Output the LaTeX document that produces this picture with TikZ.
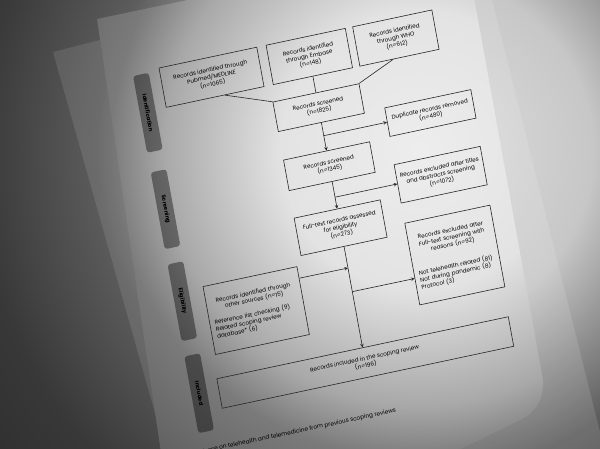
\documentclass[tikz,border=0pt]{standalone}
\usepackage{fontspec}
\setmainfont{Poppins}
\usetikzlibrary{calc}
\pgfdeclareradialshading{roomlight}{\pgfpoint{0bp}{0bp}}{color(0bp)=(black!12); color(8.3bp)=(black!22); color(15.5bp)=(black!64); color(21.4bp)=(black!78); color(25bp)=(black!81); color(50bp)=(black!81)}
\pgfdeclareradialshading{paperlight}{\pgfpoint{0bp}{0bp}}{color(0bp)=(black!7); color(6.7bp)=(black!11); color(12.3bp)=(black!34); color(14.9bp)=(black!52); color(19.2bp)=(black!62); color(25bp)=(black!68); color(50bp)=(black!68)}
\begin{document}
\begin{tikzpicture}[x=1pt, y=1pt, >=stealth,
    every node/.style={font=\fontsize{5.7}{7.2}\selectfont},
    box/.style={draw=black!85, line width=0.6pt, align=center, inner sep=2pt},
    stage/.style={fill=black, fill opacity=0.4, text opacity=1, rounded corners=3pt, minimum width=78pt, minimum height=16pt, rotate=-90, font=\fontsize{5.5}{7}\selectfont\bfseries},
    link/.style={draw=black!85, line width=0.6pt}]
    \useasboundingbox (0,0) rectangle (600,448);
    \clip (0,0) rectangle (600,448);
    % room, sheet behind and the paper
    \shade[shading=roomlight] (420,298) circle (520);
    \fill[white, opacity=0.12] (300,468) -- (487,468) -- (607,-12) -- (300,-12) -- cycle;
    \fill[white, opacity=0.1] (53,396) -- (100,408) -- (160.4,16) -- cycle;
    \begin{scope}
        \clip (97,429) -- (464,506) -- (543,68) .. controls (544,48) and (535,35) .. (520,28) -- (463,0) -- (420,-20) -- (164,-25) -- cycle;
        \shade[shading=paperlight] (420,298) circle (520);
    \end{scope}
    % flow diagram on the tilted page
    \begin{scope}[cm={0.978,0.208,-0.180,0.984,(159,380)}, transform shape]
        \node[stage] (stIdent) at (-19,-41.5) {Identification};
        \node[stage] (stScreen) at (-19,-139.5) {Screening};
        \node[stage] (stElig) at (-19,-233) {Eligibility};
        \node[stage] (stIncl) at (-19,-326.5) {Included};

        \node[box, minimum width=100pt, minimum height=40pt] (pubmed) at (50,-20) {Records identified through\\Pubmed/MEDLINE\\(n=1065)};
        \node[box, minimum width=81pt, minimum height=40pt] (embase) at (150,-20) {Records identified\\through Embase\\(n=148)};
        \node[box, minimum width=81pt, minimum height=40pt] (who) at (238.5,-20) {Records identified\\through WHO\\(n=612)};
        \node[box, minimum width=88pt, minimum height=30pt] (screenA) at (150,-72) {Records screened\\(n=1825)};
        \node[box, minimum width=88pt, minimum height=29pt] (dup) at (259,-100.5) {Duplicate records removed\\(n=480)};
        \node[box, minimum width=88pt, minimum height=31pt] (screenB) at (150,-131.5) {Records screened\\(n=1345)};
        \node[box, minimum width=88pt, minimum height=39pt] (exclTA) at (258,-163) {Records excluded after titles\\and abstracts screening\\(n=1072)};
        \node[box, minimum width=88pt, minimum height=38pt] (fulltext) at (150,-194) {Full-text records assessed\\for eligibility\\(n=273)};
        \node[box, align=left, inner xsep=5pt, text width=77pt, minimum height=83pt] (exclFT) at (257.5,-244.5) {{\centering Records excluded after\\Full-text screening with\\reasons (n=92)\par}\vspace{14pt}Not telehealth related (81)\\Not during pandemic (8)\\Protocol (3)};
        \node[box, align=left, inner xsep=5pt, text width=86pt, minimum height=69pt] (other) at (52,-257.5) {{\centering Records identified through\\other sources (n=15)\par}\vspace{7pt}Reference list checking (9)\\Related scoping review\\database* (6)};
        \node[box, minimum width=298pt, minimum height=30pt] (incl) at (150,-331) {Records included in the scoping review\\(n=196)};
        \node[anchor=base east, font=\fontsize{5.8}{7}\selectfont] (note) at (175,-386) {*Database on telehealth and telemedicine from previous scoping reviews};

        \coordinate (jA) at (150,-100.5);
        \coordinate (jB) at (150,-163);
        \coordinate (jC) at (150,-235);
        \coordinate (jD) at (150,-259);

        \draw[link] ($(pubmed.south west)!0.6!(pubmed.south east)$) -- (screenA.north west);
        \draw[link] (embase) -- (screenA);
        \draw[link] ($(who.south west)!0.42!(who.south east)$) -- (screenA.north east);
        \draw[link, ->] (screenA) -- (screenB);
        \draw[link, ->] (jA) -- (dup.west);
        \draw[link, ->] (screenB) -- (fulltext);
        \draw[link, ->] (jB) -- (exclTA.west);
        \draw[link, ->] (fulltext) -- (incl);
        \draw[link, ->] ($(other.north east)!0.174!(other.south east)$) -- (jC);
        \draw[link, ->] (jD) -- ($(exclFT.north west)!0.675!(exclFT.south west)$);
    \end{scope}
\end{tikzpicture}
\end{document}
